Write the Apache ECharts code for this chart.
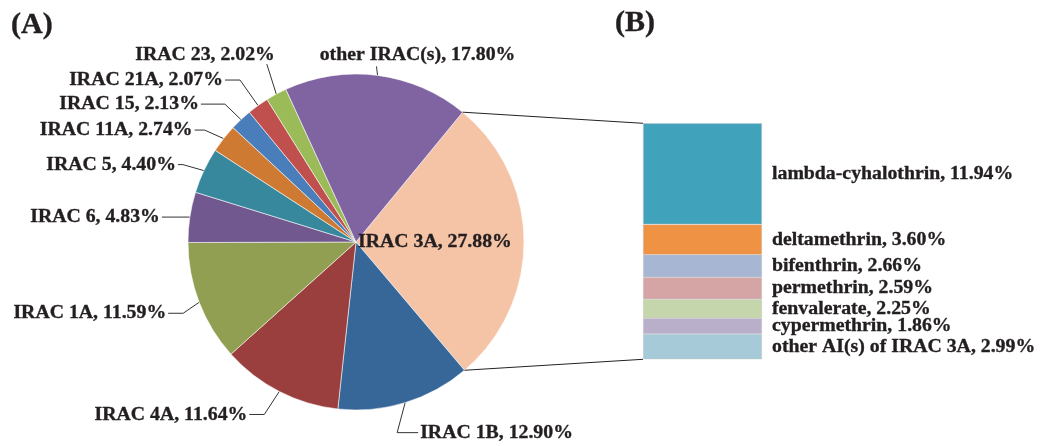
<!DOCTYPE html>
<html>
<head>
<meta charset="utf-8">
<script src="https://cdn.jsdelivr.net/npm/echarts@6/dist/echarts.min.js"></script>
<style>
html,body{margin:0;padding:0;background:#fff;}
#main{width:1041px;height:446px;}
</style>
</head>
<body>
<div id="main"></div>
<script>
// ---- data ----
const pieNames = ['IRAC 3A','IRAC 1B','IRAC 4A','IRAC 1A','IRAC 6','IRAC 5','IRAC 11A','IRAC 15','IRAC 21A','IRAC 23','other IRAC(s)'];
const pieValues = [27.88, 12.90, 11.64, 11.59, 4.83, 4.40, 2.74, 2.13, 2.07, 2.02, 17.80];
const barNames = ['lambda-cyhalothrin','deltamethrin','bifenthrin','permethrin','fenvalerate','cypermethrin','other AI(s) of IRAC 3A'];
const barValues = [11.94, 3.60, 2.66, 2.59, 2.25, 1.86, 2.99];
const panelTitles = ['(A)', '(B)'];

// ---- styles / layout ----
const pieColors = ['#F5C3A6','#376699','#9A3F3D','#909F51','#71588F','#37889C','#CF7A33','#4A7EBB','#C0504D','#9BBB59','#8064A2'];
const barColors = ['#41A2BC','#EF9244','#A7B7D3','#D5A5A5','#C5D6AC','#BAAFCA','#A6CAD7'];
const FONT = '"Liberation Serif","Times New Roman",serif';
const TXT = '#231f20';
const FS = 19.8;
const CX = 356, CY = 242, R = 168, START = 50.6;
const GRID = {left: 643, top: 123.3, width: 119, height: 236};
// label offsets relative to slice edge point: [dx, dy, align, horizontal leader length]
const pieLabelOffsets = [
  null,
  [15, 30, 'left', 23],
  [-32, 23, 'right', 17],
  [-33, 11, 'right', 17],
  [-30, 0, 'right', 23],
  [-28, -6, 'right', 7],
  [-31, -8.5, 'right', 12],
  [-42, -15.5, 'right', 26],
  [-35, -25.5, 'right', 17],
  [-1.5, -39, 'right', 'up'],
  [40, -20, 'center', 'vert']
];

const chart = echarts.init(document.getElementById('main'), null, {renderer: 'canvas'});
const fmt = v => v.toFixed(2) + '%';
const barTotal = barValues.reduce((a, b) => a + b, 0);
const textBase = {fontFamily: FONT, fontWeight: 'bold', fontSize: FS, color: TXT, textBorderColor: TXT, textBorderWidth: 0.35};

const pieData = pieNames.map((n, i) => {
  const d = {name: n, value: pieValues[i], itemStyle: {color: pieColors[i]}};
  if (i === 0) {
    d.label = {position: 'inside'};
    d.labelLine = {show: false};
  }
  return d;
});

const barSeries = barNames.map((n, i) => ({
  type: 'bar',
  name: n,
  stack: 'ai',
  barWidth: '100%',
  xAxisIndex: 0, yAxisIndex: 0,
  data: [barValues[i]],
  itemStyle: {color: barColors[i], borderColor: 'rgba(200,200,200,0.7)', borderWidth: 0.6},
  label: Object.assign({
    show: true, position: 'right', distance: 10,
    formatter: p => p.seriesName + ', ' + fmt(p.value)
  }, textBase),
  emphasis: {disabled: true},
  animation: false
}));

const option = {
  animation: false,
  title: [
    {text: panelTitles[0], left: 6, top: 5, textStyle: {fontFamily: FONT, fontWeight: 'bold', fontSize: 30, color: TXT, textBorderColor: TXT, textBorderWidth: 0.4}},
    {text: panelTitles[1], left: 610, top: 3, textStyle: {fontFamily: FONT, fontWeight: 'bold', fontSize: 30, color: TXT, textBorderColor: TXT, textBorderWidth: 0.4}}
  ],
  grid: {left: GRID.left, top: GRID.top, width: GRID.width, height: GRID.height},
  xAxis: {type: 'category', data: ['IRAC 3A'], show: false},
  yAxis: {type: 'value', min: 0, max: barTotal, inverse: true, show: false},
  series: [
    {
      type: 'pie',
      center: [CX, CY],
      radius: R,
      startAngle: START,
      clockwise: true,
      avoidLabelOverlap: false,
      data: pieData,
      itemStyle: {borderColor: 'rgba(255,255,255,0.7)', borderWidth: 0.8},
      label: Object.assign({
        show: true, position: 'outside',
        formatter: p => p.name + ', ' + fmt(p.value)
      }, textBase),
      labelLine: {show: true, length: 10, length2: 10, lineStyle: {color: '#333', width: 1}},
      labelLayout: function (p) {
        if (p.dataIndex === 0) {
          return {x: CX + 2, y: CY, align: 'left', verticalAlign: 'middle'};
        }
        const o = pieLabelOffsets[p.dataIndex];
        if (!o || !p.labelLinePoints) return {};
        const e = p.labelLinePoints[0];
        const ax = e[0] + o[0], ay = e[1] + o[1];
        let pts;
        if (o[3] === 'vert') {
          pts = [[e[0], e[1]], [e[0] - 1, ay + 11]];
        } else if (o[3] === 'up') {
          pts = [[e[0], e[1]], [ax - 8, ay + 9]];
        } else if (o[2] === 'left') {
          pts = [[e[0], e[1]], [ax - o[3], ay], [ax - 2, ay]];
        } else {
          pts = [[e[0], e[1]], [ax + o[3], ay], [ax + 2, ay]];
        }
        return {x: ax, y: ay, align: o[2], verticalAlign: 'middle', labelLinePoints: pts};
      },
      emphasis: {disabled: true},
      animation: false
    }
  ].concat(barSeries)
};
chart.setOption(option);

// connector lines from the 3A slice boundaries to the bar's corners
function drawConnectors() {
  const a1 = START * Math.PI / 180;
  const a2 = (START - 360 * pieValues[0] / pieValues.reduce((a, b) => a + b, 0)) * Math.PI / 180;
  const p1 = [CX + R * Math.cos(a1), CY - R * Math.sin(a1)];
  const p2 = [CX + R * Math.cos(a2), CY - R * Math.sin(a2)];
  const top = chart.convertToPixel({xAxisIndex: 0, yAxisIndex: 0}, [0, 0]);
  const bot = chart.convertToPixel({xAxisIndex: 0, yAxisIndex: 0}, [0, barTotal]);
  chart.setOption({
    graphic: [
      {type: 'line', shape: {x1: p1[0], y1: p1[1], x2: GRID.left, y2: top[1]}, style: {stroke: '#222', lineWidth: 1}, z: 10},
      {type: 'line', shape: {x1: p2[0], y1: p2[1], x2: GRID.left, y2: bot[1]}, style: {stroke: '#222', lineWidth: 1}, z: 10}
    ]
  });
}
drawConnectors();
</script>
</body>
</html>
